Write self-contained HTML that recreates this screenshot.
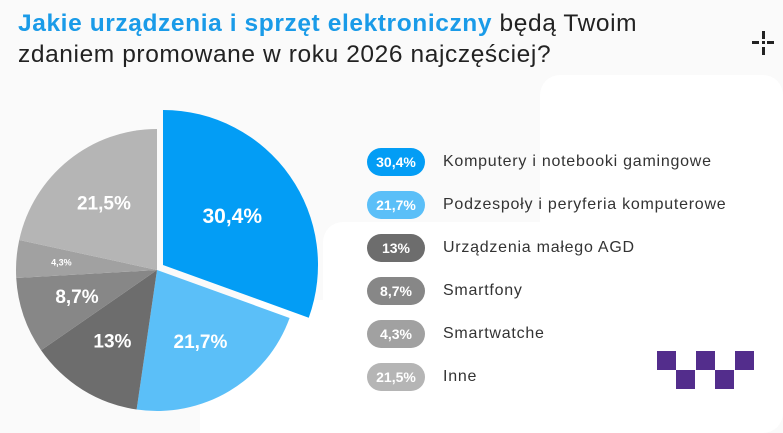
<!DOCTYPE html>
<html><head><meta charset="utf-8"><style>
html,body{margin:0;width:783px;height:433px;overflow:hidden;background:#fff;font-family:"Liberation Sans",sans-serif}
.t{position:absolute;left:18px;top:8px;font-size:24.5px;line-height:31px;color:#222;letter-spacing:0.6px;white-space:nowrap}
.t b{color:#1a9be8}
.row{position:absolute;left:367px;height:28px;display:flex;align-items:center}
.badge{width:58px;height:28px;border-radius:14px;color:#fff;font-weight:bold;font-size:14px;display:flex;align-items:center;justify-content:center}
.lbl{margin-left:18px;font-size:16px;color:#333;letter-spacing:0.75px;white-space:nowrap}
</style></head><body>
<svg width="783" height="433" style="position:absolute;left:0;top:0">
<rect x="0" y="0" width="783" height="433" fill="#fafafa"/>
<rect x="540" y="75" width="243" height="358" rx="20" fill="#fff"/>
<rect x="200" y="300" width="400" height="133" fill="#fff"/>
<rect x="323" y="222" width="400" height="200" rx="20" fill="#fff"/>
<g id="pie"></g>
<g fill="#222"><rect x="752" y="41" width="7" height="3"/><rect x="767" y="41" width="7" height="3"/><rect x="762" y="31" width="3" height="8"/><rect x="762" y="47" width="3" height="8"/><rect x="762" y="41" width="3" height="3"/></g>
<g fill="#532d8c"><rect x="657" y="351" width="19" height="19"/><rect x="696" y="351" width="19" height="19"/><rect x="735" y="351" width="19" height="19"/><rect x="676" y="370" width="19" height="19"/><rect x="715" y="370" width="19" height="19"/></g>
</svg>
<div class="t"><b>Jakie urządzenia i sprzęt elektroniczny</b> będą Twoim<br>zdaniem promowane w roku 2026 najczęściej?</div>
<div class="row" style="top:148px"><div class="badge" style="background:#039df5">30,4%</div><div class="lbl">Komputery i notebooki gamingowe</div></div>
<div class="row" style="top:191px"><div class="badge" style="background:#5bbff8">21,7%</div><div class="lbl">Podzespoły i peryferia komputerowe</div></div>
<div class="row" style="top:234px"><div class="badge" style="background:#6d6d6d">13%</div><div class="lbl">Urządzenia małego AGD</div></div>
<div class="row" style="top:277px"><div class="badge" style="background:#878787">8,7%</div><div class="lbl">Smartfony</div></div>
<div class="row" style="top:320px"><div class="badge" style="background:#a1a1a1">4,3%</div><div class="lbl">Smartwatche</div></div>
<div class="row" style="top:363px"><div class="badge" style="background:#b5b5b5">21,5%</div><div class="lbl">Inne</div></div>
<script>
var d=[[30.4,"#039df5","30,4%",21],[21.7,"#5bbff8","21,7%",19],[13,"#6d6d6d","13%",19],[8.7,"#878787","8,7%",19],[4.3,"#a1a1a1","4,3%",9],[21.5,"#b5b5b5","21,5%",19]];
var cx=157,cy=270,R=141,tot=99.6,a=-Math.PI/2,h="";
d.forEach(function(s,i){var b=a+s[0]/tot*2*Math.PI,ox=0,oy=0,r=R;if(i==0){ox=6;oy=-5;r=155;}
var x=cx+ox,y=cy+oy,m=(a+b)/2,lr=i==4?R*0.68:R*0.6;
h+='<path d="M'+x+','+y+' L'+(x+r*Math.cos(a))+','+(y+r*Math.sin(a))+' A'+r+','+r+' 0 '+((b-a)>Math.PI?1:0)+' 1 '+(x+r*Math.cos(b))+','+(y+r*Math.sin(b))+' Z" fill="'+s[1]+'"/>';
h+='<text x="'+(x+lr*Math.cos(m))+'" y="'+(y+lr*Math.sin(m))+'" fill="#fff" font-family="Liberation Sans" font-weight="bold" font-size="'+s[3]+'" text-anchor="middle" dominant-baseline="central">'+s[2]+'</text>';
a=b;});
document.getElementById("pie").innerHTML=h;
</script>
</body></html>
